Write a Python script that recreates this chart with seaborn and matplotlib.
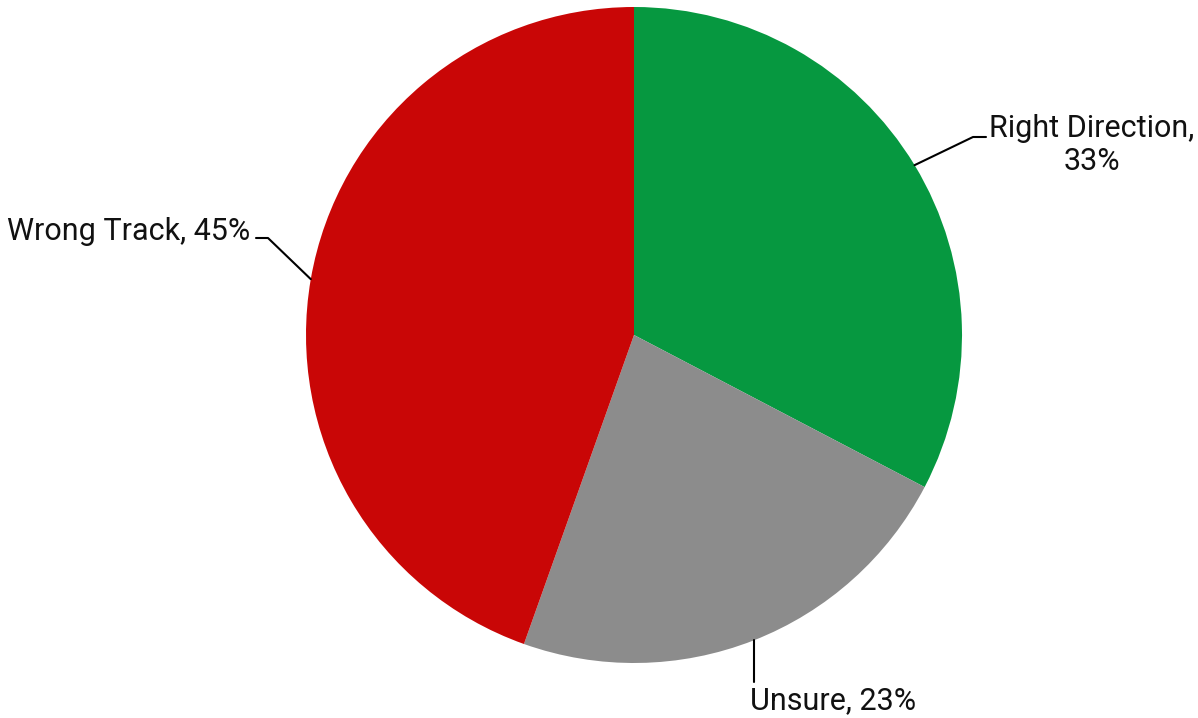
import numpy as np
import matplotlib
matplotlib.use("Agg")
import matplotlib.pyplot as plt
import seaborn as sns

categories = ["Right Direction", "Unsure", "Wrong Track"]
values = [33, 23, 45]
colors = ["#069840", "#8c8c8c", "#c90606"]

sns.set_theme(style="white")
plt.rcParams['font.family'] = ['Roboto', 'DejaVu Sans']
palette = sns.color_palette(colors)

W, H = 1198, 718
fig = plt.figure(figsize=(W / 100, H / 100), dpi=100)
ax = fig.add_axes([0, 0, 1, 1])
ax.set_xlim(0, W)
ax.set_ylim(0, H)
ax.set_aspect('equal')
ax.axis('off')

cx, cy, r = 634, 383, 328
wedges, _ = ax.pie(values, colors=palette, startangle=90, counterclock=False,
                   center=(cx, cy), radius=r, frame=True,
                   wedgeprops=dict(linewidth=0))
ax.set_xlim(0, W)
ax.set_ylim(0, H)
ax.axis('off')

def edge(w):
    th = np.deg2rad((w.theta1 + w.theta2) / 2)
    return cx + r * np.cos(th), cy + r * np.sin(th)

fs = 22
lc = "#000000"
# Right Direction
x0, y0 = edge(wedges[0])
ax.plot([x0, 973, 986], [y0, 581, 581], color=lc, lw=1.5)
ax.text(1092, 573, f"{categories[0]},\n{values[0]}%", ha='center', va='center',
        fontsize=fs, linespacing=1.2, color="#111111")
# Unsure
x1, y1 = edge(wedges[1])
ax.plot([x1, x1], [y1, 36], color=lc, lw=1.5)
ax.text(833, 17, f"{categories[1]}, {values[1]}%", ha='center', va='center',
        fontsize=fs, color="#111111")
# Wrong Track
x2, y2 = edge(wedges[2])
ax.plot([x2, 268, 256], [y2, 480, 480], color=lc, lw=1.5)
ax.text(250, 486, f"{categories[2]}, {values[2]}%", ha='right', va='center',
        fontsize=fs, color="#111111")

fig.savefig("out.png", dpi=100, facecolor="white")
